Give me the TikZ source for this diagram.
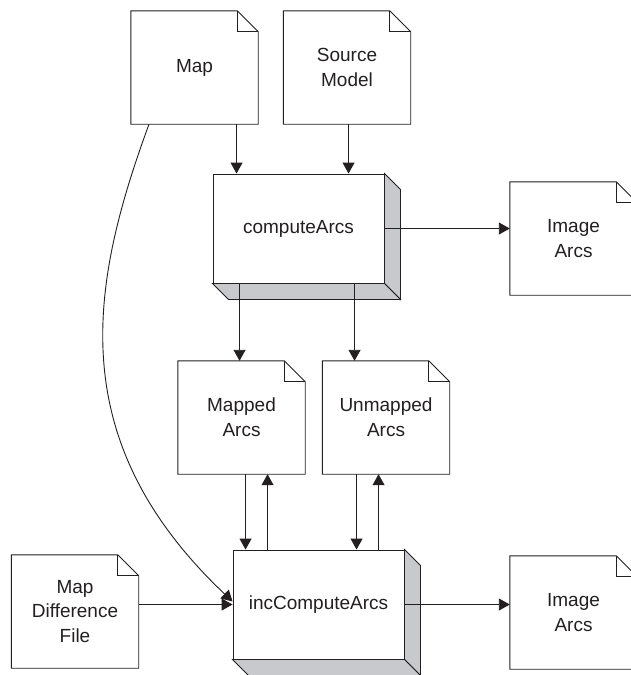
\documentclass[tikz,border=0pt]{standalone}
\usepackage{fontspec}
\newfontfamily\diagfont{Liberation Sans}
\usetikzlibrary{arrows.meta}
\definecolor{facegray}{RGB}{200,201,205}
\definecolor{inkgray}{RGB}{35,31,32}
\newcommand{\docoutline}[1]{%
  \draw[outline] (#1.north west) -- ([xshift=-21pt]#1.north east) -- ([yshift=-21pt]#1.north east)
    -- (#1.south east) -- (#1.south west) -- cycle;
  \draw[outline] ([xshift=-21pt]#1.north east) |- ([yshift=-21pt]#1.north east);}
\newcommand{\boxfaces}[1]{%
  \filldraw[outline,fill=facegray] (#1.north east) -- ++(16pt,-16pt)
    -- ([shift={(16pt,-16pt)}]#1.south east) -- (#1.south east) -- cycle;
  \filldraw[outline,fill=facegray] (#1.south west) -- ++(16pt,-16pt)
    -- ([shift={(16pt,-16pt)}]#1.south east) -- (#1.south east) -- cycle;}
\begin{document}
\begin{tikzpicture}[x=1pt,y=-1pt,
  outline/.style={draw=inkgray,line width=0.9pt},
  doc/.style={minimum width=127pt,minimum height=113pt,inner sep=0pt,align=center,
    font=\diagfont\fontsize{19}{24.6}\selectfont,text=inkgray},
  proc/.style={outline,fill=white,minimum width=171pt,minimum height=109pt,inner sep=0pt,
    font=\diagfont\fontsize{19}{24.6}\selectfont,text=inkgray},
  flow/.style={draw=inkgray,line width=0.9pt,-{Triangle[length=11pt,width=12pt]}}]
\useasboundingbox (0,0) rectangle (631,675);
\clip (0,0) rectangle (631,675);
\node[doc] (map) at (194.5,67.5) {Map};
\node[doc] (src) at (347,67.5) {Source\\Model};
\node[doc] (mapped) at (241.5,417.5) {Mapped\\Arcs};
\node[doc] (unmapped) at (386,417.5) {Unmapped\\Arcs};
\node[doc] (img1) at (573.5,238.5) {Image\\Arcs};
\node[doc] (img2) at (573.5,612.5) {Image\\Arcs};
\node[doc] (diff) at (75,611.5) {Map\\Difference\\File};
\foreach \d in {map,src,mapped,unmapped,img1,img2,diff} {\docoutline{\d}}
\node[proc] (ca) at (298.5,228.5) {computeArcs};
\node[proc] (inc) at (318.5,604.5) {incComputeArcs};
\boxfaces{ca}
\boxfaces{inc}
\coordinate (ca in1) at ([xshift=24pt]ca.north west);
\coordinate (ca in2) at ([xshift=136pt]ca.north west);
\coordinate (ca out1) at ([xshift=27pt]ca.south west);
\coordinate (ca out2) at ([xshift=142pt]ca.south west);
\coordinate (inc in1) at ([xshift=13pt]inc.north west);
\coordinate (inc out1) at ([xshift=35pt]inc.north west);
\coordinate (inc in2) at ([xshift=124pt]inc.north west);
\coordinate (inc out2) at ([xshift=146pt]inc.north west);
\coordinate (map out) at ([xshift=-45.5pt]map.south);
\path (ca in1 |- map.south) edge[flow] (ca in1);
\path (ca in2 |- src.south) edge[flow] (ca in2);
\path (ca.east) edge[flow] (ca.east -| img1.west);
\path (ca out1) edge[flow] (ca out1 |- mapped.north);
\path (ca out2) edge[flow] (ca out2 |- unmapped.north);
\path (inc in1 |- mapped.south) edge[flow] (inc in1);
\path (inc out1) edge[flow] (inc out1 |- mapped.south);
\path (inc in2 |- unmapped.south) edge[flow] (inc in2);
\path (inc out2) edge[flow] (inc out2 |- unmapped.south);
\path (inc.west -| diff.east) edge[flow] (inc.west);
\path (inc.east) edge[flow] (inc.east -| img2.west);
\draw[flow] (map out) .. controls (90,285) and (62,440) .. ([yshift=3pt]inc.west);
\end{tikzpicture}
\end{document}
